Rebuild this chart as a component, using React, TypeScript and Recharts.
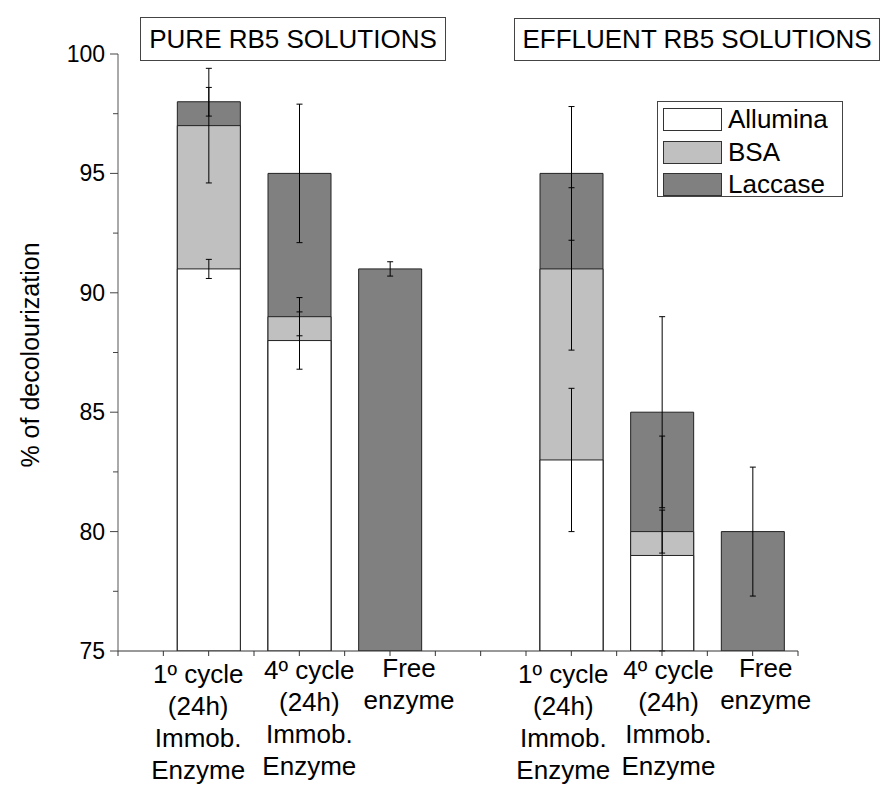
import React from "react";
import { BarChart, Bar, XAxis, YAxis, ErrorBar } from "recharts";

// slot positions on the x axis (4 is the gap between the two solution groups)
const positions = [1, 2, 3, 5, 6, 7];

const allumina = [91, 88, null, 83, 79, null];
const alluminaErr = [0.4, 1.2, null, 3.0, 5.0, null];
const bsa = [97, 89, null, 91, 80, null];
const bsaErr = [2.4, 0.8, null, 3.4, 0.9, null];
const laccase = [98, 95, 91, 95, 85, 80];
const laccaseErr = [0.6, 2.9, 0.3, 2.8, 4.0, 2.7];

const xTicks = [0, 0.5, 1, 1.5, 2, 2.5, 3, 3.5, 4, 4.5, 5, 5.5, 6, 6.5, 7, 7.5];
const yTicks = [75, 77.5, 80, 82.5, 85, 87.5, 90, 92.5, 95, 97.5, 100];

const xLabelLines: Record<number, string[]> = {
  1: ["1º cycle", "(24h)", "Immob.", "Enzyme"],
  2: ["4º cycle", "(24h)", "Immob.", "Enzyme"],
  3: ["Free", "enzyme"],
  5: ["1º cycle", "(24h)", "Immob.", "Enzyme"],
  6: ["4º cycle", "(24h)", "Immob.", "Enzyme"],
  7: ["Free", "enzyme"],
};

const groupTitles = ["PURE RB5 SOLUTIONS", "EFFLUENT RB5 SOLUTIONS"];

const legendItems = [
  { name: "Allumina", color: "#ffffff" },
  { name: "BSA", color: "#c0c0c0" },
  { name: "Laccase", color: "#808080" },
];

const FONT = "'Liberation Sans', Arial, Helvetica, sans-serif";
const BAR_SIZE = 63;
const Y_MIN = 75;
const Y_MAX = 100;

// category labels are nudged apart so the wide lines don't run into each other
const labelNudge: Record<number, { dx: number; dy: number }> = {
  1: { dx: -10.5, dy: 0 },
  2: { dx: 10, dy: -4 },
  3: { dx: 19, dy: -6 },
  5: { dx: -8, dy: 0 },
  6: { dx: 6.5, dy: -4 },
  7: { dx: 13, dy: -6 },
};

// error whiskers stop at the bottom of the axis
const whisker = (v: number | null, e: number | null) =>
  v == null || e == null ? undefined : [Math.min(e, v - Y_MIN), e];

const data = positions.map((x, i) => ({
  x,
  allumina: allumina[i] ?? undefined,
  alluminaErr: whisker(allumina[i], alluminaErr[i]),
  bsa: bsa[i] ?? undefined,
  bsaErr: whisker(bsa[i], bsaErr[i]),
  laccase: laccase[i],
  laccaseErr: whisker(laccase[i], laccaseErr[i]),
}));

const XTick = ({ x, y, payload }: any) => {
  const lines = xLabelLines[payload.value];
  if (!lines) return <g />;
  const nudge = labelNudge[payload.value] || { dx: 0, dy: 0 };
  const cx = x + nudge.dx;
  return (
    <text x={cx} y={y + nudge.dy} textAnchor="middle" fontFamily={FONT} fontSize={26} fill="#000">
      {lines.map((line, i) => (
        <tspan key={i} x={cx} dy={i === 0 ? 24.5 : 32}>
          {line}
        </tspan>
      ))}
    </text>
  );
};

const YTick = ({ x, y, payload }: any) => {
  const major = payload.value % 5 === 0;
  return (
    <g>
      <line x1={major ? x + 5 : x + 8} x2={x + 13} y1={y} y2={y} stroke="#444" strokeWidth={1} />
      {major && (
        <text x={x} y={y} dy={8} textAnchor="end" fontFamily={FONT} fontSize={23} fill="#000">
          {payload.value}
        </text>
      )}
    </g>
  );
};

const boxStyle: React.CSSProperties = {
  position: "absolute",
  border: "1px solid #444",
  background: "#fff",
  fontSize: 26,
  textAlign: "center",
  whiteSpace: "nowrap",
  boxSizing: "border-box",
};

export default function App() {
  return (
    <div
      style={{
        position: "absolute",
        left: 0,
        top: 0,
        width: 885,
        height: 785,
        background: "#fff",
        fontFamily: FONT,
        color: "#000",
      }}
    >
      <BarChart
        width={885}
        height={785}
        data={data}
        barGap={-BAR_SIZE}
        barSize={BAR_SIZE}
        margin={{ top: 54, right: 87, left: 0, bottom: 0 }}
      >
        <XAxis
          type="number"
          dataKey="x"
          domain={[0, 7.5]}
          ticks={xTicks}
          interval={0}
          allowDataOverflow
          height={134}
          tickSize={5}
          tick={<XTick />}
          axisLine={{ stroke: "#333" }}
          tickLine={{ stroke: "#333" }}
        />
        <YAxis
          type="number"
          domain={[Y_MIN, Y_MAX]}
          ticks={yTicks}
          interval={0}
          allowDataOverflow
          width={118}
          tickSize={8}
          tickMargin={5}
          tickLine={false}
          tick={<YTick />}
          axisLine={{ stroke: "#555" }}
        />
        <Bar dataKey="laccase" fill="#808080" stroke="#222" strokeWidth={1} isAnimationActive={false}>
          <ErrorBar dataKey="laccaseErr" direction="y" width={3} stroke="#000" strokeWidth={1} />
        </Bar>
        <Bar dataKey="bsa" fill="#c0c0c0" stroke="#222" strokeWidth={1} isAnimationActive={false}>
          <ErrorBar dataKey="bsaErr" direction="y" width={3} stroke="#000" strokeWidth={1} />
        </Bar>
        <Bar dataKey="allumina" fill="#ffffff" stroke="#222" strokeWidth={1} isAnimationActive={false}>
          <ErrorBar dataKey="alluminaErr" direction="y" width={3} stroke="#000" strokeWidth={1} />
        </Bar>
      </BarChart>

      {/* y axis title */}
      <div
        style={{
          position: "absolute",
          left: 30,
          top: 355,
          transform: "translate(-50%, -50%) rotate(-90deg)",
          fontSize: 25,
          whiteSpace: "nowrap",
        }}
      >
        % of decolourization
      </div>

      {/* group headers */}
      <div style={{ ...boxStyle, left: 140, top: 17, width: 306, height: 44, lineHeight: "42px" }}>
        {groupTitles[0]}
      </div>
      <div style={{ ...boxStyle, left: 514, top: 18, width: 366, height: 43, lineHeight: "41px" }}>
        {groupTitles[1]}
      </div>

      {/* legend */}
      <div
        style={{
          position: "absolute",
          left: 657,
          top: 101,
          width: 186,
          height: 96,
          border: "1px solid #444",
          boxSizing: "border-box",
          background: "#fff",
        }}
      >
        {legendItems.map((item, i) => (
          <div
            key={item.name}
            style={{
              position: "absolute",
              left: 5,
              top: 6 + i * 32.7,
              height: 23,
              display: "flex",
              alignItems: "center",
              whiteSpace: "nowrap",
            }}
          >
            <span
              style={{
                display: "inline-block",
                width: 59,
                height: 23,
                background: item.color,
                border: "1px solid #333",
                boxSizing: "border-box",
              }}
            />
            <span style={{ marginLeft: 6, fontSize: 26, lineHeight: "23px" }}>{item.name}</span>
          </div>
        ))}
      </div>
    </div>
  );
}
